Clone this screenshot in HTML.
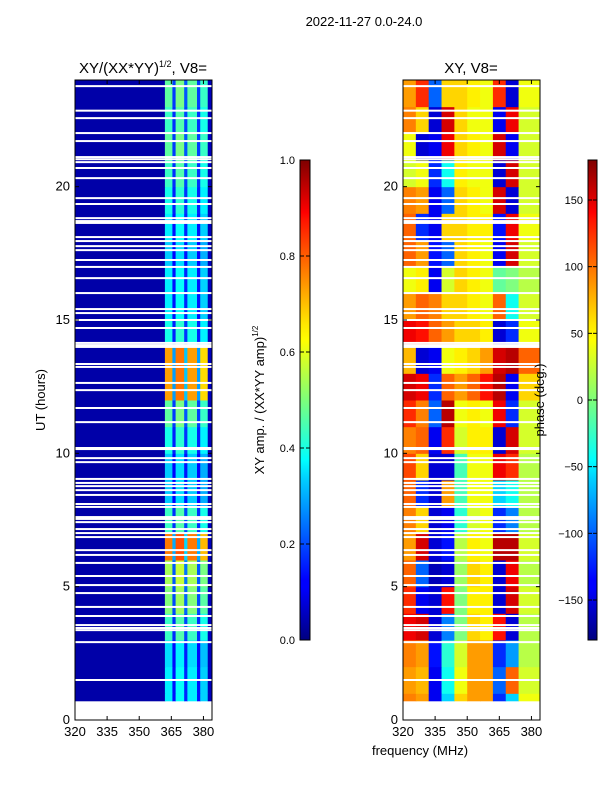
<!DOCTYPE html>
<html><head><meta charset="utf-8"><style>
html,body{margin:0;padding:0;background:#fff;}
svg{display:block;font-family:"Liberation Sans","DejaVu Sans",sans-serif;}
</style></head><body>
<svg id="fig" width="600" height="800" viewBox="0 0 600 800">
<defs>
<linearGradient id="jet" x1="0" y1="1" x2="0" y2="0">
<stop offset="0" stop-color="#00007f"/><stop offset="0.11" stop-color="#0000ff"/><stop offset="0.125" stop-color="#0000ff"/>
<stop offset="0.34" stop-color="#00d4ff"/><stop offset="0.375" stop-color="#00ffff"/><stop offset="0.5" stop-color="#7dff7a"/>
<stop offset="0.625" stop-color="#ffff00"/><stop offset="0.66" stop-color="#ffe600"/><stop offset="0.875" stop-color="#ff1400"/><stop offset="0.89" stop-color="#ff0000"/>
<stop offset="1" stop-color="#7f0000"/>
</linearGradient>
</defs>
<text x="364" y="26" font-size="13" text-anchor="middle">2022-11-27 0.0-24.0</text>
<text x="143" y="73" font-size="15" text-anchor="middle">XY/(XX*YY)<tspan font-size="9" dy="-6">1/2</tspan><tspan dy="6">, V8=</tspan></text>
<text x="471" y="73" font-size="15" text-anchor="middle">XY, V8=</text>
<g id="left"></g>
<g id="right"></g>
<g id="axes"></g>
<text transform="translate(45,400) rotate(-90)" font-size="13" text-anchor="middle">UT (hours)</text>
<text x="420" y="755" font-size="13" text-anchor="middle">frequency (MHz)</text>
<text transform="translate(264,400) rotate(-90)" font-size="13" text-anchor="middle">XY amp. / (XX*YY amp)<tspan font-size="8" dy="-6">1/2</tspan></text>
<text transform="translate(544,400) rotate(-90)" font-size="13" text-anchor="middle">phase (deg.)</text>
<rect x="300" y="160" width="10" height="480" fill="url(#jet)" stroke="#000" stroke-width="1"/>
<rect x="588" y="160" width="9" height="480" fill="url(#jet)" stroke="#000" stroke-width="1"/>
<g id="cb"></g>
</svg>
<script>
const freqEdges=[320,326,332,338,344,350,356,362,368,374,384];
const phaseGrid=[
[90,80,-140,-60,60,80,80,-120,-60,40],
[80,70,-140,-40,40,80,80,-100,100,30],
[90,80,-130,-30,30,80,80,-120,-80,20],
[140,150,-150,-90,0,60,50,130,-150,20],
[120,-140,-150,130,0,50,50,-150,150,30],
[100,-100,-160,-150,10,60,50,-150,140,20],
[80,150,-150,-130,20,50,40,160,160,30],
[90,60,-150,-140,-30,30,40,-120,-90,20],
[100,-120,-150,80,-20,40,40,-60,-40,20],
[110,60,-150,-150,-20,40,40,140,120,20],
[90,100,-140,120,30,50,50,-150,150,30],
[120,90,-100,160,40,50,40,140,-120,30],
[150,140,-120,100,80,100,130,160,-140,60],
[70,-150,-140,40,50,60,80,150,160,100],
[140,130,100,80,60,60,50,-150,-120,40],
[80,100,90,60,60,50,40,100,-40,30],
[40,50,-140,30,60,50,40,-10,0,20],
[100,80,-130,-100,60,50,40,-140,150,30],
[100,-120,-140,60,60,50,50,-130,140,40],
[90,80,-140,-100,60,50,40,150,-150,30],
[30,40,-120,-40,50,40,40,-150,150,30],
[40,-150,-140,140,60,50,40,150,-140,30],
[90,60,-150,150,60,40,40,-140,140,30],
[80,120,-100,60,60,50,40,120,-150,40]];
const ampEdges=[320,362,365.5,367,371,372.5,377,378.5,382,384];
const ampBase=[0.04,0.36,0.14,0.38,0.16,0.36,0.14,0.33,0.06];
const ampRowScale=[1,1,0.95,1.2,1.4,1.5,2.1,1.2,0.9,0.9,1.1,1.3,2.0,2.0,1.1,1,1,0.9,1,1.1,1.2,1.3,1.2,1.3];
const dataStart=0.72;
const gapHours=[23.77,22.85,22.57,22.01,21.71,21.11,21.03,20.92,20.70,20.32,19.57,19.35,18.82,18.71,18.64,18.11,17.96,17.77,17.62,17.25,16.99,16.57,16.01,15.41,15.26,15.0,14.70,14.14,14.06,13.99,13.35,13.24,12.64,12.37,11.70,11.17,10.20,10.16,9.82,9.67,9.04,8.89,8.77,8.62,8.44,8.10,7.99,7.61,7.54,7.42,7.16,7.01,6.86,6.37,6.19,5.89,5.40,5.06,4.76,4.24,3.90,3.56,3.45,3.37,2.92,1.50];
const xTicks=[320,335,350,365,380];
const yTicks=[0,5,10,15,20];
const ampTicks=[0.0,0.2,0.4,0.6,0.8,1.0];
const phaseTicks=[-150,-100,-50,0,50,100,150];

const NS="http://www.w3.org/2000/svg";
const panels=[{x0:75,x1:212},{x0:403,x1:540}];
const Y0=720,Y1=80;
function yS(h){return Y0-(h/24)*(Y0-Y1);}
function xS(p,f){return p.x0+(f-320)/(384-320)*(p.x1-p.x0);}
function jet(v){v=Math.max(0,Math.min(1,v));
 const r=Math.max(0,Math.min(1,1.5-Math.abs(4*v-3))),g=Math.max(0,Math.min(1,1.5-Math.abs(4*v-2))),b=Math.max(0,Math.min(1,1.5-Math.abs(4*v-1)));
 return `rgb(${Math.round(r*255)},${Math.round(g*255)},${Math.round(b*255)})`;}
function rect(par,x,y,w,h,fill){const r=document.createElementNS(NS,'rect');
 r.setAttribute('x',x);r.setAttribute('y',y);r.setAttribute('width',w);r.setAttribute('height',h);r.setAttribute('fill',fill);
 par.appendChild(r);return r;}
function line(par,x1,y1,x2,y2){const l=document.createElementNS(NS,'line');
 l.setAttribute('x1',x1);l.setAttribute('y1',y1);l.setAttribute('x2',x2);l.setAttribute('y2',y2);l.setAttribute('stroke','#000');l.setAttribute('stroke-width',1);par.appendChild(l);return l;}
function text(par,x,y,s,anchor){const t=document.createElementNS(NS,'text');
 t.setAttribute('x',x);t.setAttribute('y',y);t.setAttribute('font-size',13);t.setAttribute('text-anchor',anchor);t.textContent=s;par.appendChild(t);return t;}

const L=document.getElementById('left'),R=document.getElementById('right');
for(let h=0;h<24;h++){
 const lo=Math.max(h,dataStart),yt=yS(h+1),yb=yS(lo),hh=yb-yt+0.5;
 for(let i=0;i<ampBase.length;i++){
  const v=ampBase[i]>0.1?ampBase[i]*ampRowScale[h]:ampBase[i];
  const c=rect(L,xS(panels[0],ampEdges[i]),yt,xS(panels[0],ampEdges[i+1])-xS(panels[0],ampEdges[i])+0.5,hh,jet(v));
  
  
 }
 for(let i=0;i<phaseGrid[h].length;i++){
  const v=(phaseGrid[h][i]+180)/360;
  const c=rect(R,xS(panels[1],freqEdges[i]),yt,xS(panels[1],freqEdges[i+1])-xS(panels[1],freqEdges[i])+0.5,hh,jet(v));
  
  
 }
}
for(const p of panels){
 for(const g of gapHours){
  const r=rect(p.x0===75?L:R,p.x0,yS(g)-1,p.x1-p.x0,2,'#fff');
  
  
 }
}
const A=document.getElementById('axes');
panels.forEach((p,pi)=>{
 const fr=document.createElementNS(NS,'rect');
 fr.setAttribute('x',p.x0);fr.setAttribute('y',Y1);fr.setAttribute('width',p.x1-p.x0);fr.setAttribute('height',Y0-Y1);
 fr.setAttribute('fill','none');fr.setAttribute('stroke','#000');
 
 
 A.appendChild(fr);
 for(const t of xTicks){const x=xS(p,t);line(A,x,Y0,x,Y0-4);line(A,x,Y1,x,Y1+4);
  const tl=text(A,x,Y0+16,String(t),'middle');
  
  }
 for(const t of yTicks){const y=yS(t);line(A,p.x0,y,p.x0+4,y);line(A,p.x1,y,p.x1-4,y);
  const tl=text(A,p.x0-5,y+4,String(t),'end');
  
  }
});
const CB=document.getElementById('cb');
for(const t of ampTicks){const y=640-t*480;line(CB,300,y,304,y);line(CB,310,y,306,y);
 const tl=text(CB,295,y+4,t.toFixed(1),'end');tl.setAttribute('font-size',11);
 
 }
for(const t of phaseTicks){const y=640-(t+180)/360*480;line(CB,588,y,592,y);line(CB,597,y,593,y);
 const tl=text(CB,583,y+4,t<0?'\u2212'+(-t):String(t),'end');tl.setAttribute('font-size',11);
 
 }
</script>
</body></html>
